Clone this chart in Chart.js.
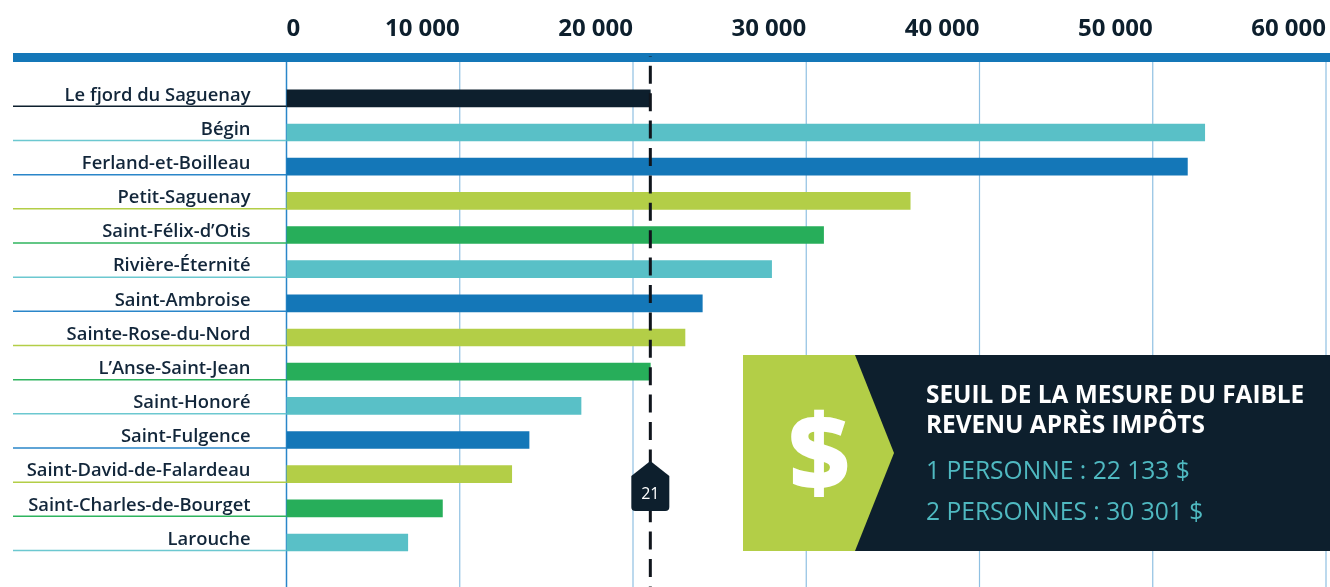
<!DOCTYPE html>
<html>
<head>
<meta charset="utf-8">
<script src="https://cdn.jsdelivr.net/npm/chart.js@4"></script>
<style>
html, body { margin: 0; padding: 0; background: #fff; overflow: hidden; }
canvas { display: block; }
</style>
</head>
<body>
<canvas id="chart" width="1330" height="587"></canvas>
<script>
const categories = ['Le fjord du Saguenay', 'Bégin', 'Ferland-et-Boilleau', 'Petit-Saguenay',
    'Saint-Félix-d’Otis', 'Rivière-Éternité', 'Saint-Ambroise', 'Sainte-Rose-du-Nord',
    'L’Anse-Saint-Jean', 'Saint-Honoré', 'Saint-Fulgence', 'Saint-David-de-Falardeau',
    'Saint-Charles-de-Bourget', 'Larouche'];
const values = [21000, 53000, 52000, 36000, 31000, 28000, 24000, 23000, 21000, 17000, 14000, 13000, 9000, 7000];
const xTicks = [0, 10000, 20000, 30000, 40000, 50000, 60000];
const xTickLabels = ['0', '10 000', '20 000', '30 000', '40 000', '50 000', '60 000'];
const threshold = 21000;
const thresholdRank = '21';
const panelTitle = ['SEUIL DE LA MESURE DU FAIBLE', 'REVENU APRÈS IMPÔTS'];
const panelLines = ['1 PERSONNE : 22 133 $', '2 PERSONNES : 30 301 $'];

const DARK = '#0d1f2d', TEAL = '#59c0c7', BLUE = '#1477b8', LIME = '#b3ce47', GREEN = '#27ae5a';
const barColors = [DARK, TEAL, BLUE, LIME, GREEN, TEAL, BLUE, LIME, GREEN, TEAL, BLUE, LIME, GREEN, TEAL];
const lineColors = [DARK, '#6cc8d0', '#2a86c9', LIME, '#2fb45e', '#6cc8d0', '#2a86c9', LIME, '#2fb45e', '#6cc8d0', '#2a86c9', LIME, '#2fb45e', '#6cc8d0'];
const FONT = '"Open Sans", sans-serif';

// grid, top band and the label underlines go behind the bars
const behindBars = {
    id: 'behindBars',
    beforeDatasetsDraw(chart) {
        const ctx = chart.ctx, x = chart.scales.x, y = chart.scales.y;
        ctx.save();
        xTicks.forEach(v => {
            ctx.strokeStyle = v === 0 ? '#2a86c9' : '#8fc0e2';
            ctx.lineWidth = v === 0 ? 1.5 : 1.2;
            ctx.beginPath();
            ctx.moveTo(x.getPixelForValue(v), 62);
            ctx.lineTo(x.getPixelForValue(v), 587);
            ctx.stroke();
        });
        ctx.fillStyle = BLUE;
        ctx.fillRect(13, 53, 1317, 9);
        categories.forEach((c, i) => {
            const py = y.getPixelForValue(i) + 8;
            ctx.strokeStyle = lineColors[i];
            ctx.lineWidth = 1.5;
            ctx.beginPath();
            ctx.moveTo(13, py);
            ctx.lineTo(x.left, py);
            ctx.stroke();
        });
        ctx.restore();
    }
};

// dashed threshold, its tag and the info panel sit on top
const onTop = {
    id: 'onTop',
    afterDatasetsDraw(chart) {
        const ctx = chart.ctx, x = chart.scales.x;
        const tx = x.getPixelForValue(threshold);
        ctx.save();

        ctx.strokeStyle = '#10151c';
        ctx.lineWidth = 3;
        ctx.setLineDash([18, 9.4]);
        ctx.lineDashOffset = 17.6;
        ctx.beginPath();
        ctx.moveTo(tx, 56);
        ctx.lineTo(tx, 587);
        ctx.stroke();
        ctx.setLineDash([]);

        ctx.fillStyle = DARK;
        ctx.beginPath();
        ctx.moveTo(tx, 461);
        ctx.lineTo(tx + 19, 476);
        ctx.lineTo(tx + 19, 507);
        ctx.quadraticCurveTo(tx + 19, 511, tx + 15, 511);
        ctx.lineTo(tx - 15, 511);
        ctx.quadraticCurveTo(tx - 19, 511, tx - 19, 507);
        ctx.lineTo(tx - 19, 476);
        ctx.closePath();
        ctx.fill();
        ctx.fillStyle = '#fff';
        ctx.font = '500 16px ' + FONT;
        ctx.textAlign = 'center';
        ctx.textBaseline = 'middle';
        ctx.fillText(thresholdRank, tx, 494);

        // panel
        ctx.fillStyle = DARK;
        ctx.fillRect(800, 355, 530, 196);
        ctx.fillStyle = LIME;
        ctx.beginPath();
        ctx.moveTo(743, 355);
        ctx.lineTo(855, 355);
        ctx.lineTo(894, 453);
        ctx.lineTo(855, 551);
        ctx.lineTo(743, 551);
        ctx.closePath();
        ctx.fill();
        ctx.fillStyle = '#fff';
        ctx.font = '800 106px ' + FONT;
        ctx.textAlign = 'center';
        ctx.fillText('$', 819, 461);

        ctx.textAlign = 'left';
        ctx.font = '700 24.4px ' + FONT;
        ctx.fillText(panelTitle[0], 926, 396.5);
        ctx.fillText(panelTitle[1], 926, 426.5);
        ctx.fillStyle = '#4fb9c1';
        ctx.font = '400 24.6px ' + FONT;
        ctx.fillText(panelLines[0], 926, 472);
        ctx.fillText(panelLines[1], 926, 512.5);

        // the zero tick is the only one that starts at its line
        ctx.fillStyle = DARK;
        ctx.font = '700 24px ' + FONT;
        ctx.fillText(xTickLabels[0], x.getPixelForValue(0), 29.5);
        ctx.restore();
    }
};

new Chart(document.getElementById('chart'), {
    type: 'bar',
    data: {
        labels: categories,
        datasets: [{
            data: values,
            backgroundColor: barColors,
            barThickness: 17
        }]
    },
    options: {
        indexAxis: 'y',
        responsive: false,
        animation: false,
        layout: { padding: { left: 0, right: 4, top: 0, bottom: 27.4 } },
        plugins: { legend: { display: false }, tooltip: { enabled: false } },
        scales: {
            x: {
                position: 'top',
                min: 0,
                max: 60000,
                afterFit: s => { s.height = 81.25; s.paddingLeft = 0; s.paddingRight = 0; },
                afterBuildTicks: s => { s.ticks = xTicks.map(v => ({ value: v })); },
                grid: { display: false },
                border: { display: false },
                ticks: {
                    align: 'end',
                    autoSkip: false,
                    maxRotation: 0,
                    padding: 29.75,
                    color: DARK,
                    font: { family: FONT, size: 24, weight: '700' },
                    callback: (v, i) => i === 0 ? '' : xTickLabels[i]
                }
            },
            y: {
                afterFit: s => { s.width = 286.5; s.paddingTop = 0; s.paddingBottom = 0; },
                grid: { display: false },
                border: { display: false },
                ticks: {
                    autoSkip: false,
                    padding: 28,
                    labelOffset: -3,
                    color: '#12263a',
                    font: { family: FONT, size: 18.4, weight: '600' }
                }
            }
        }
    },
    plugins: [behindBars, onTop]
});
</script>
</body>
</html>
